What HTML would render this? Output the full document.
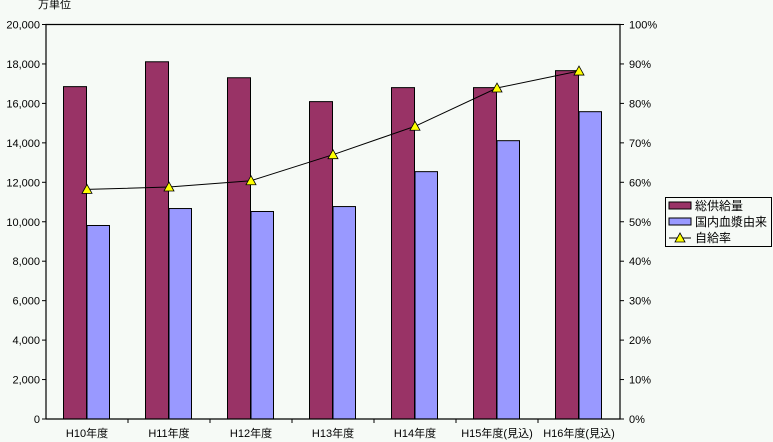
<!DOCTYPE html>
<html><head><meta charset="utf-8"><style>
body{margin:0;background:#f6faf6;}
svg{display:block;font-family:"Liberation Sans","Noto Sans CJK JP",sans-serif;}
</style></head><body>
<svg id="c" width="773" height="442" xmlns="http://www.w3.org/2000/svg">
<rect width="773" height="442" fill="#f6faf6"/>
<text x="38" y="8" font-size="11">万単位</text>
<g id="g"></g>
</svg>
<script>
const categories=["H10年度","H11年度","H12年度","H13年度","H14年度","H15年度(見込)","H16年度(見込)"];
const totalSupply=[16850,18110,17300,16090,16800,16800,17660];
const domestic=[9810,10670,10520,10770,12540,14110,15580];
const selfRate=[58.2,58.8,60.4,67.0,74.2,83.9,88.2];
const leftTicks=[0,2000,4000,6000,8000,10000,12000,14000,16000,18000,20000];
const rightTicks=[0,10,20,30,40,50,60,70,80,90,100];
const L=46,R=620,T=24.5,B=419;
const cw=(R-L)/categories.length;
const yL=v=>B-(v/20000)*(B-T);
const yR=v=>B-(v/100)*(B-T);
const xC=i=>L+cw*i+cw/2;
const ns="http://www.w3.org/2000/svg";
const g=document.getElementById('g');
function mk(t,a,p){const e=document.createElementNS(ns,t);for(const k in a)e.setAttribute(k,a[k]);(p||g).appendChild(e);return e;}
leftTicks.forEach(v=>{const t=mk('text',{x:40,y:yL(v)+4,'font-size':11,'text-anchor':'end'});t.textContent=v.toLocaleString('en-US');


mk('line',{x1:L-4,x2:L,y1:yL(v),y2:yL(v),stroke:'#000'});});
rightTicks.forEach(v=>{const t=mk('text',{x:629,y:yR(v)+4,'font-size':11});t.textContent=v+'%';


mk('line',{x1:R,x2:R+4,y1:yR(v),y2:yR(v),stroke:'#000'});});
categories.forEach((c,i)=>{
const x=xC(i);
const b1=mk('rect',{x:x-23.5,y:yL(totalSupply[i]),width:23,height:B-yL(totalSupply[i]),fill:'#993366',stroke:'#000','stroke-width':1});


const b2=mk('rect',{x:x,y:yL(domestic[i]),width:22.5,height:B-yL(domestic[i]),fill:'#9999ff',stroke:'#000','stroke-width':1});


const t=mk('text',{x:x,y:437,'font-size':11,'text-anchor':'middle'});t.textContent=c;


if(i>0)mk('line',{x1:L+cw*i,x2:L+cw*i,y1:B,y2:B+4,stroke:'#000'});
});
const frame=mk('path',{d:`M${L},${B}V${T}H${R}V${B}H${L}`,fill:'none',stroke:'#000','stroke-width':1.2});


const ln=mk('polyline',{points:selfRate.map((v,i)=>xC(i)+','+yR(v)).join(' '),fill:'none',stroke:'#000','stroke-width':1});


selfRate.forEach((v,i)=>{const x=xC(i),y=yR(v);
const p=mk('polygon',{points:`${x},${y-5} ${x-5},${y+4} ${x+5},${y+4}`,fill:'#ffff00',stroke:'#000','stroke-width':0.8});

});
// legend
const lg=mk('g',{});


mk('rect',{x:665.5,y:197.5,width:106,height:49,fill:'#f6faf6',stroke:'#000'},lg);
mk('rect',{x:669,y:202,width:22,height:7,fill:'#993366',stroke:'#000'},lg);
mk('rect',{x:669,y:218,width:22,height:7,fill:'#9999ff',stroke:'#000'},lg);
mk('line',{x1:669,x2:691,y1:238,y2:238,stroke:'#000'},lg);
mk('polygon',{points:'680,233 675,242 685,242',fill:'#ffff00',stroke:'#000','stroke-width':0.8},lg);
[['総供給量',210],['国内血漿由来',226],['自給率',242]].forEach(([s,y])=>{const t=mk('text',{x:695,y:y,'font-size':12},lg);t.textContent=s;

});
</script>
</body></html>
